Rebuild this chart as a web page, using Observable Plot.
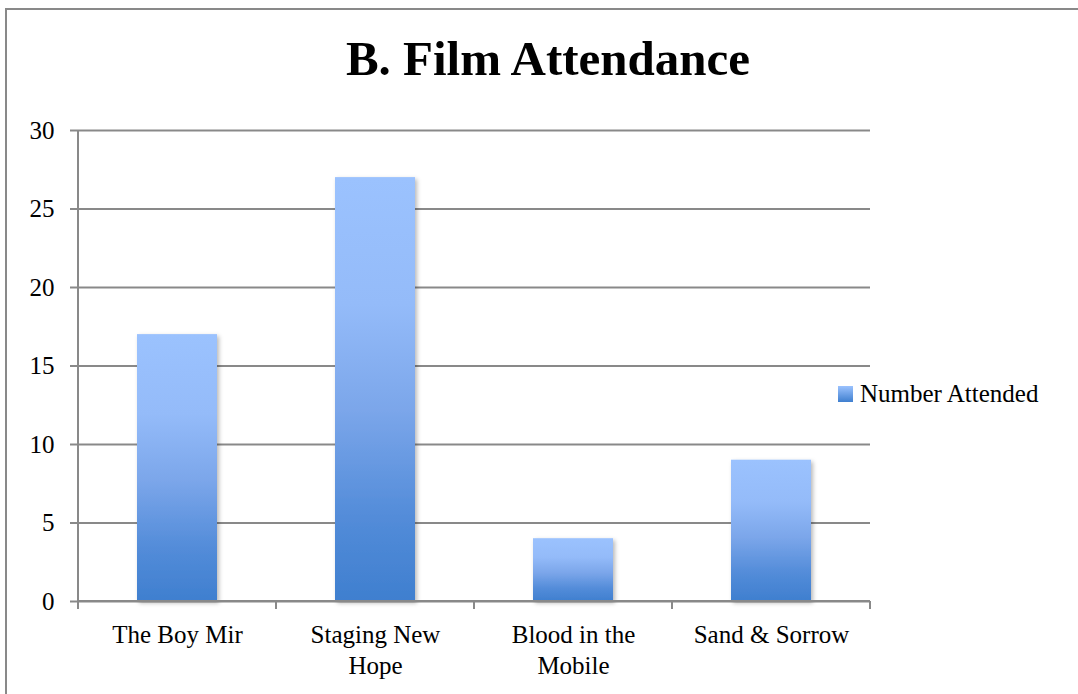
<!DOCTYPE html>
<html>
<head>
<meta charset="utf-8">
<script src="https://cdn.jsdelivr.net/npm/d3@7"></script>
<script src="https://cdn.jsdelivr.net/npm/@observablehq/plot@0.6"></script>
<style>
  html, body { margin: 0; padding: 0; background: #fff; overflow: hidden; }
  body { width: 1078px; height: 694px; position: relative; font-family: "Liberation Serif", serif; }
  #frame { position: absolute; left: 5px; top: 8px; width: 1200px; height: 800px; border: 2px solid #898989; box-sizing: border-box; }
  #title { position: absolute; left: 0; top: 29px; width: 1096px; text-align: center; font: bold 49px "Liberation Serif", serif; color: #000; line-height: 60px; }
  #chart { position: absolute; left: 0; top: 100px; }
  #legend { position: absolute; left: 838px; top: 380px; display: flex; align-items: center; font: 25px "Liberation Serif", serif; color: #000; }
  #legend .sw { width: 15px; height: 16px; margin-right: 7px; background: linear-gradient(#9bc2fe, #3f7fcf); }
</style>
</head>
<body>
<div id="frame"></div>
<div id="title">B. Film Attendance</div>
<div id="chart"></div>
<div id="legend"><span class="sw"></span><span id="legendLabel"></span></div>
<script>
const titleText = "B. Film Attendance";
const seriesName = "Number Attended";
const categories = ["The Boy Mir", "Staging New Hope", "Blood in the Mobile", "Sand & Sorrow"];
const tickLabels = ["The Boy Mir", "Staging New\nHope", "Blood in the\nMobile", "Sand & Sorrow"];
const values = [17, 27, 4, 9];
const yTicks = [0, 5, 10, 15, 20, 25, 30];

document.getElementById("title").textContent = titleText;
document.getElementById("legendLabel").textContent = seriesName;

const data = categories.map((c, i) => ({category: c, value: values[i]}));
const labelOf = new Map(categories.map((c, i) => [c, tickLabels[i]]));

const defs = () => {
  const d = d3.create("svg:defs");
  const g = d.append("linearGradient").attr("id", "barGrad").attr("x1", 0).attr("y1", 0).attr("x2", 0).attr("y2", 1);
  [[0, "#9bc2fe"], [0.3, "#94bbf9"], [0.55, "#7ba6ea"], [0.8, "#538cd9"], [1, "#3f7fcf"]]
    .forEach(([o, c]) => g.append("stop").attr("offset", o).attr("stop-color", c));
  const f = d.append("filter").attr("id", "shadow").attr("x", "-20%").attr("y", "-10%").attr("width", "150%").attr("height", "130%");
  f.append("feDropShadow").attr("dx", 2).attr("dy", 2).attr("stdDeviation", 2).attr("flood-color", "#000").attr("flood-opacity", 0.28);
  return d.node();
};

const axes = (index, scales, values, dims) => {
  const x = scales.x, y = scales.y;
  const g = d3.create("svg:g").attr("stroke", "#898989").attr("stroke-width", 2).attr("fill", "none");
  const left = dims.marginLeft, right = dims.width - dims.marginRight;
  const y0 = y(0), yTop = y(30);
  g.append("line").attr("x1", left).attr("x2", left).attr("y1", yTop).attr("y2", y0 + 8);
  g.append("line").attr("x1", left).attr("x2", right).attr("y1", y0).attr("y2", y0);
  const bounds = categories.map(c => x(c)).concat([x(categories[categories.length - 1]) + x.bandwidth()]);
  bounds.forEach(b => g.append("line").attr("x1", b).attr("x2", b).attr("y1", y0).attr("y2", y0 + 8));
  return g.node();
};

const plot = Plot.plot({
  width: 1078,
  height: 594,
  marginLeft: 78,
  marginRight: 208,
  marginTop: 30,
  marginBottom: 93,
  style: {fontFamily: "Liberation Serif, serif", fontSize: "25px", color: "#000", background: "transparent"},
  x: {domain: categories, padding: 0},
  y: {domain: [0, 30]},
  marks: [
    defs,
    Plot.gridY(yTicks, {stroke: "#898989", strokeOpacity: 1, strokeWidth: 2}),
    Plot.barY(data, {x: "category", y: "value", fill: "url(#barGrad)", insetLeft: 59, insetRight: 59}),
    axes,
    Plot.axisY(yTicks, {tickSize: 8, tickPadding: 16, stroke: "#898989", strokeWidth: 2, fontSize: 25, label: null, tickFormat: d => String(d)}),
    Plot.axisX({tickSize: 0, tickPadding: 19, fontSize: 25, label: null, lineHeight: 1.24, tickFormat: c => labelOf.get(c)})
  ]
});
plot.querySelectorAll("g[aria-label='bar'] rect").forEach(r => r.setAttribute("filter", "url(#shadow)"));
document.getElementById("chart").appendChild(plot);
</script>
</body>
</html>
